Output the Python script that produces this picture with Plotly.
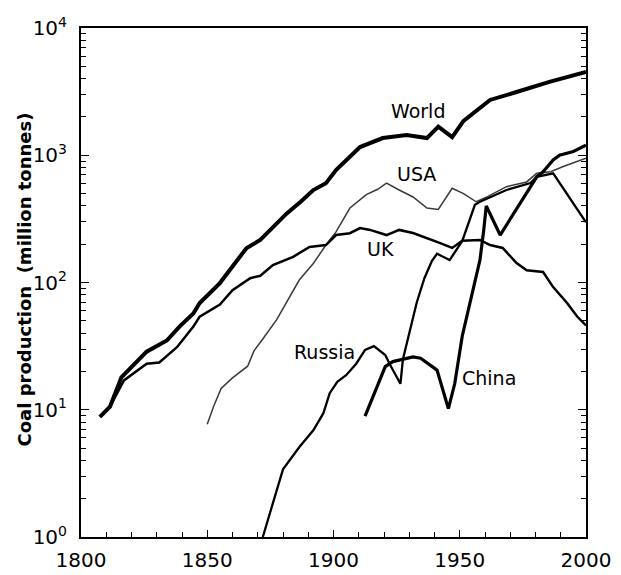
import plotly.graph_objects as go

# ---- data (year, million tonnes) ----
world_years = [1807.5, 1811.5, 1816, 1826, 1834, 1839, 1844.5, 1847, 1855, 1860, 1865.5, 1871,
               1876, 1881.5, 1887, 1892, 1897, 1901, 1910.5, 1919.5, 1929, 1937, 1941.5, 1947,
               1951.5, 1962, 1972.5, 1985.5, 2000]
world_vals = [8.8, 10.6, 18, 28.6, 35, 45, 57, 69, 99, 133, 186, 216,
              274, 349, 431, 533, 603, 766, 1160, 1365, 1440, 1365, 1680, 1390,
              1860, 2720, 3140, 3770, 4510]

uk_years = [1807.5, 1811.5, 1817, 1826, 1831, 1838, 1844.5, 1847, 1855, 1860, 1867, 1871, 1876,
            1884, 1890.5, 1897, 1901, 1906.5, 1910.5, 1914.5, 1921, 1926, 1931.5, 1937, 1942,
            1947, 1951, 1958, 1962, 1967, 1972.5, 1976.5, 1983, 1987, 1992.5, 1996.5, 2000]
uk_vals = [8.8, 10.6, 17, 23, 23.5, 31, 45, 54, 67, 87, 108, 113, 137,
           159, 190, 197, 236, 244, 268, 259, 236, 259, 245, 224, 205,
           187, 213, 216, 197, 187, 142, 125, 121, 92, 69, 54, 46]

usa_years = [1850, 1852.5, 1855.5, 1860, 1866, 1868.5, 1872, 1877.5, 1886.5, 1892, 1897, 1901,
             1906.5, 1910.5, 1913, 1917.5, 1921, 1926, 1931.5, 1937, 1941.5, 1947, 1951.5,
             1956.5, 1961, 1968.5, 1976.5, 1980.5, 1986, 1991, 2000]
usa_vals = [7.7, 10.6, 14.7, 17.8, 22, 29, 36, 51, 105, 141, 197, 250,
            385, 445, 490, 540, 605, 533, 470, 385, 375, 550, 500,
            431, 473, 566, 617, 721, 742, 815, 946]

russia_years = [1872, 1880, 1886.5, 1892, 1896, 1898.5, 1901.5, 1905, 1909, 1912.5, 1916, 1920.5,
                1922.5, 1926.5, 1927.5, 1930.5, 1933, 1936, 1939, 1941, 1946, 1951, 1956, 1958,
                1968.5, 1978, 1980.5, 1987, 2000]
russia_vals = [1.0, 3.4, 5.1, 6.9, 9.4, 13.5, 16.6, 18.7, 23, 29.5, 31.6, 26.9,
               22.4, 16, 25, 44, 70, 108, 148, 168, 150, 212, 408, 431,
               533, 605, 676, 720, 297]

china_years = [1912.5, 1920.5, 1923.5, 1929, 1931.5, 1934.5, 1941, 1945.5, 1948, 1951, 1955, 1958,
               1959.5, 1960.5, 1966, 1980.5, 1983, 1987, 1989.5, 1995, 2000]
china_vals = [8.9, 21.8, 23.9, 25.4, 26, 25.4, 20.5, 10.2, 16, 38, 85, 150,
              258, 400, 236, 676, 742, 918, 1000, 1070, 1200]

y_tick_vals = [1, 10, 100, 1000, 10000]
y_tick_text = ["10<sup>0</sup>", "10<sup>1</sup>", "10<sup>2</sup>", "10<sup>3</sup>", "10<sup>4</sup>"]
x_tick_vals = [1800, 1850, 1900, 1950, 2000]
x_tick_text = ["1800", "1850", "1900", "1950", "2000"]

series_labels = ["World", "USA", "UK", "Russia", "China"]

FONT = "DejaVu Sans"

fig = go.Figure()
fig.add_trace(go.Scatter(x=usa_years, y=usa_vals, mode="lines", name="USA",
                         line=dict(color="#3a3a3a", width=1.5)))
fig.add_trace(go.Scatter(x=russia_years, y=russia_vals, mode="lines", name="Russia",
                         line=dict(color="black", width=2.3)))
fig.add_trace(go.Scatter(x=uk_years, y=uk_vals, mode="lines", name="UK",
                         line=dict(color="black", width=2.5)))
fig.add_trace(go.Scatter(x=china_years, y=china_vals, mode="lines", name="China",
                         line=dict(color="black", width=3.2)))
fig.add_trace(go.Scatter(x=world_years, y=world_vals, mode="lines", name="World",
                         line=dict(color="black", width=4)))

# label positions (year, log10 value)
label_pos = {"World": (1933.5, 3.348), "USA": (1933.0, 2.853), "UK": (1918.8, 2.263),
             "Russia": (1896.6, 1.454), "China": (1961.5, 1.25)}
for name in series_labels:
    lx, ly = label_pos[name]
    fig.add_annotation(x=lx, y=ly, xref="x", yref="y", text=name, showarrow=False,
                       font=dict(family=FONT, size=19, color="black"),
                       xanchor="center", yanchor="middle")

fig.add_annotation(x=0, y=0.5, xref="paper", yref="paper", xshift=-57, yshift=3,
                   text="<b>Coal production  (million tonnes)</b>", textangle=-90,
                   showarrow=False, font=dict(family=FONT, size=18, color="black"),
                   xanchor="center", yanchor="middle")

# the page body has an 8px default margin, so the figure is sized to fit the window
fig.update_layout(
    width=613, height=567,
    margin=dict(l=73, r=35, t=20, b=38, autoexpand=False),
    paper_bgcolor="white", plot_bgcolor="white",
    showlegend=False,
    font=dict(family=FONT, color="black"),
    xaxis=dict(range=[1800, 2000], tickmode="array", tickvals=x_tick_vals, ticktext=x_tick_text,
               ticks="inside", ticklen=7, tickwidth=1, tickcolor="black",
               showline=True, linecolor="black", linewidth=1.5, mirror=True,
               showgrid=False, zeroline=False, tickfont=dict(family=FONT, size=20),
               ticklabelstandoff=4,
               minor=dict(dtick=10, ticks="inside", ticklen=5, tickcolor="black", showgrid=False)),
    yaxis=dict(type="log", range=[0, 4], tickmode="array", tickvals=y_tick_vals, ticktext=y_tick_text,
               ticks="inside", ticklen=8, tickwidth=1, tickcolor="black",
               showline=True, linecolor="black", linewidth=2, mirror="ticks",
               showgrid=False, zeroline=False, tickfont=dict(family=FONT, size=20),
               ticklabelstandoff=8,
               minor=dict(dtick="D1", ticks="inside", ticklen=5, tickcolor="black", showgrid=False)),
)

fig.write_html("out.html")
